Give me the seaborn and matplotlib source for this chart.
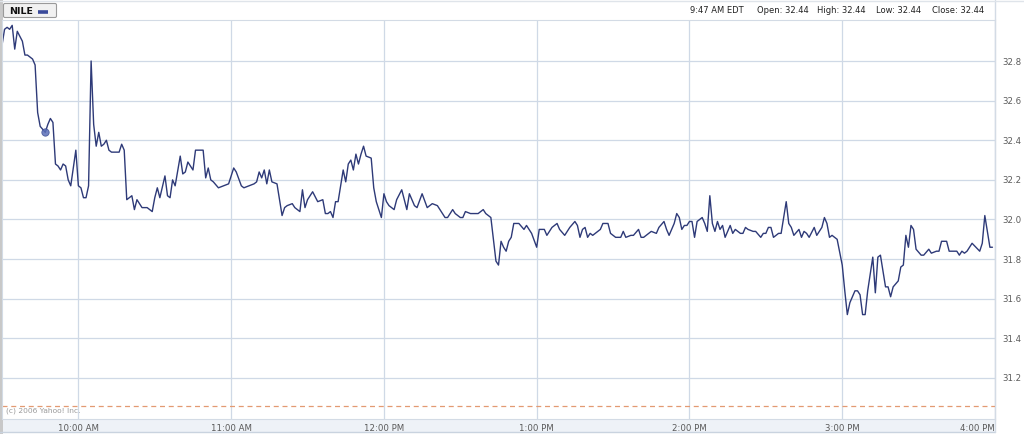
import matplotlib

matplotlib.use("Agg")
import matplotlib.pyplot as plt
import pandas as pd
import seaborn as sns
from matplotlib.patches import FancyBboxPatch, Rectangle

# NILE intraday, minutes after the 9:30 open
minutes = [
    0, 1, 2, 3, 4, 5, 6, 8, 9, 10,
    12, 13, 14, 15, 17, 18, 19, 20, 21, 22,
    23, 24, 25, 26, 27, 29, 30, 31, 32, 33,
    34, 35, 36, 37, 38, 39, 40, 41, 42, 43,
    46, 47, 48, 49, 50, 51, 52, 53, 54, 55,
    57, 59, 60, 61, 62, 64, 65, 66, 67, 68,
    70, 71, 72, 73, 75, 76, 79, 80, 81, 82,
    83, 85, 87, 89, 91, 92, 94, 95, 97, 99,
    100, 101, 102, 103, 104, 105, 106, 108, 110, 111,
    112, 114, 115, 117, 118, 119, 120, 122, 124, 126,
    127, 128, 129, 130, 131, 132, 134, 135, 136, 137,
    138, 139, 140, 141, 142, 143, 145, 146, 147, 149,
    150, 151, 152, 154, 155, 157, 159, 160, 162, 163,
    165, 167, 169, 171, 174, 175, 177, 178, 180, 181,
    182, 184, 187, 189, 190, 192, 193, 194, 195, 196,
    197, 198, 199, 200, 201, 202, 203, 205, 206, 208,
    210, 211, 213, 214, 216, 218, 219, 221, 223, 225,
    226, 227, 228, 229, 230, 231, 232, 233, 235, 236,
    238, 239, 241, 243, 244, 245, 247, 248, 250, 251,
    252, 254, 255, 257, 258, 260, 261, 262, 264, 265,
    266, 267, 268, 269, 270, 271, 272, 273, 275, 276,
    277, 278, 279, 280, 281, 282, 283, 284, 285, 286,
    287, 288, 290, 291, 292, 293, 295, 296, 298, 299,
    300, 301, 302, 303, 305, 306, 308, 309, 310, 311,
    313, 314, 315, 316, 317, 319, 320, 322, 323, 324,
    325, 326, 328, 330, 331, 332, 333, 335, 336, 337,
    338, 339, 340, 342, 343, 344, 345, 347, 348, 349,
    350, 352, 353, 354, 355, 356, 357, 358, 359, 361,
    362, 364, 365, 367, 368, 369, 371, 372, 375, 376,
    377, 378, 379, 381, 384, 385, 386, 388, 389,
]
prices = [
    32.88, 32.96, 32.97, 32.96, 32.98, 32.86, 32.95, 32.90, 32.83, 32.83,
    32.81, 32.78, 32.54, 32.47, 32.44, 32.48, 32.51, 32.49, 32.28, 32.27,
    32.25, 32.28, 32.27, 32.20, 32.17, 32.35, 32.17, 32.16, 32.11, 32.11,
    32.17, 32.80, 32.48, 32.37, 32.44, 32.37, 32.38, 32.40, 32.35, 32.34,
    32.34, 32.38, 32.35, 32.10, 32.11, 32.12, 32.05, 32.10, 32.08, 32.06,
    32.06, 32.04, 32.11, 32.16, 32.11, 32.22, 32.12, 32.11, 32.20, 32.17,
    32.32, 32.23, 32.24, 32.29, 32.25, 32.35, 32.35, 32.21, 32.26, 32.20,
    32.19, 32.16, 32.17, 32.18, 32.26, 32.24, 32.17, 32.16, 32.17, 32.18,
    32.19, 32.24, 32.21, 32.25, 32.18, 32.25, 32.19, 32.18, 32.02, 32.06,
    32.07, 32.08, 32.06, 32.04, 32.15, 32.06, 32.10, 32.14, 32.09, 32.10,
    32.03, 32.03, 32.04, 32.01, 32.09, 32.09, 32.25, 32.19, 32.28, 32.30,
    32.25, 32.33, 32.28, 32.33, 32.37, 32.32, 32.31, 32.16, 32.09, 32.01,
    32.13, 32.09, 32.07, 32.05, 32.10, 32.15, 32.05, 32.13, 32.07, 32.06,
    32.13, 32.06, 32.08, 32.07, 32.01, 32.01, 32.05, 32.03, 32.01, 32.01,
    32.04, 32.03, 32.03, 32.05, 32.03, 32.01, 31.90, 31.79, 31.77, 31.89,
    31.86, 31.84, 31.89, 31.91, 31.98, 31.98, 31.98, 31.95, 31.97, 31.93,
    31.86, 31.95, 31.95, 31.92, 31.96, 31.98, 31.95, 31.92, 31.96, 31.99,
    31.97, 31.91, 31.95, 31.96, 31.91, 31.93, 31.92, 31.93, 31.95, 31.98,
    31.98, 31.93, 31.91, 31.91, 31.94, 31.91, 31.92, 31.92, 31.95, 31.91,
    31.91, 31.93, 31.94, 31.93, 31.96, 31.99, 31.95, 31.92, 31.98, 32.03,
    32.01, 31.95, 31.97, 31.97, 31.99, 31.99, 31.91, 31.99, 32.01, 31.98,
    31.94, 32.12, 31.98, 31.94, 31.99, 31.95, 31.97, 31.91, 31.94, 31.97,
    31.93, 31.95, 31.93, 31.93, 31.96, 31.95, 31.94, 31.94, 31.91, 31.93,
    31.93, 31.96, 31.96, 31.91, 31.93, 31.93, 32.09, 31.98, 31.96, 31.92,
    31.95, 31.91, 31.94, 31.93, 31.91, 31.96, 31.92, 31.96, 32.01, 31.98,
    31.91, 31.92, 31.90, 31.77, 31.64, 31.52, 31.58, 31.64, 31.64, 31.62,
    31.52, 31.52, 31.64, 31.81, 31.63, 31.81, 31.82, 31.66, 31.66, 31.61,
    31.66, 31.69, 31.76, 31.77, 31.92, 31.86, 31.97, 31.95, 31.85, 31.82,
    31.82, 31.85, 31.83, 31.84, 31.84, 31.89, 31.89, 31.84, 31.84, 31.82,
    31.84, 31.83, 31.84, 31.88, 31.84, 31.88, 32.02, 31.86, 31.86,
]
assert len(minutes) == len(prices)

hour_ticks = [30, 90, 150, 210, 270, 330, 390]
hour_labels = ["10:00 AM", "11:00 AM", "12:00 PM", "1:00 PM", "2:00 PM", "3:00 PM", "4:00 PM"]
price_ticks = [31.2, 31.4, 31.6, 31.8, 32.0, 32.2, 32.4, 32.6, 32.8]
prev_close = 31.06

symbol = "NILE"
quote_time = "9:47 AM EDT"
quote_minute = 17
quote_open = quote_high = quote_low = quote_close = 32.44

LINE = "#2e3a78"
GRID = "#cfd9e6"
TEXT = "#5a5a5a"

sns.set_style("white")
plt.rcParams["font.family"] = ["DejaVu Sans"]

df = pd.DataFrame({"minute": minutes, "price": prices})

fig = plt.figure(figsize=(10.24, 4.34), dpi=100)
W, H = 1024, 434

# background decorations in pixel space
deco = fig.add_axes([0, 0, 1, 1], zorder=0)
deco.set_xlim(0, W)
deco.set_ylim(H, 0)
deco.axis("off")
deco.add_patch(Rectangle((0, 419), 995, 13, facecolor="#eef2f7", edgecolor="none"))
deco.plot([0, 995], [432, 432], color="#c9d3df", lw=1)
deco.add_patch(Rectangle((0, 0), 2.5, H, facecolor="#c8c8c8", edgecolor="none"))
deco.plot([995, 995], [0, 432], color="#d3dbe5", lw=1)
deco.plot([0, 1024], [0.5, 0.5], color="#dfe4ea", lw=1)

ax = fig.add_axes([2 / W, (H - 419) / H, 993 / W, 399 / H], zorder=1)
ax.patch.set_alpha(0)

sns.lineplot(data=df, x="minute", y="price", color=LINE, lw=1.0, ax=ax)
ax.axhline(prev_close, color="#e39a72", lw=0.9, ls=(0, (4, 3)))
sns.scatterplot(
    x=[quote_minute], y=[quote_open], color="#5b6fb8", s=28, alpha=0.85,
    edgecolor="#3e4f95", linewidth=0.6, ax=ax, zorder=5,
)

ax.set_xlim(0, 390)
ax.set_ylim(30.993, 33.007)
ax.set_xticks(hour_ticks)
ax.set_xticklabels(hour_labels)
ax.set_yticks(price_ticks)
ax.set_yticklabels([f"{v:.1f}" for v in price_ticks])
ax.yaxis.tick_right()
ax.grid(True, color=GRID, lw=0.9)
ax.tick_params(axis="both", length=0, labelsize=6.2, labelcolor=TEXT)
ax.tick_params(axis="x", pad=3.5)
ax.tick_params(axis="y", pad=5)
ax.get_xticklabels()[-1].set_horizontalalignment("right")
ax.set_xlabel("")
ax.set_ylabel("")
for side, spine in ax.spines.items():
    spine.set_color("#d3dbe5")
    spine.set_linewidth(0.8)

# header: symbol box and quote summary
deco.add_patch(FancyBboxPatch((3.5, 3.5), 53, 14, boxstyle="round,pad=0,rounding_size=1.5",
                              facecolor="#f1f1f1", edgecolor="#9a9a9a", lw=0.8, zorder=3))
deco.text(9, 11, symbol, fontsize=6.8, fontweight="bold", color="#111111", va="center", zorder=4)
deco.plot([38, 48], [11.5, 11.5], color="#3a4a9a", lw=2.6, zorder=4, solid_capstyle="butt")

header = [
    (690, quote_time),
    (757, f"Open: {quote_open:.2f}"),
    (817, f"High: {quote_high:.2f}"),
    (876, f"Low: {quote_low:.2f}"),
    (932, f"Close: {quote_close:.2f}"),
]
for xp, txt in header:
    deco.text(xp, 10.5, txt, fontsize=6.0, color="#222222", va="center")

deco.text(6, 411, "(c) 2006 Yahoo! Inc.", fontsize=5.4, color="#9a9a9a", va="center", zorder=2)

fig.savefig("out.png", dpi=100)
